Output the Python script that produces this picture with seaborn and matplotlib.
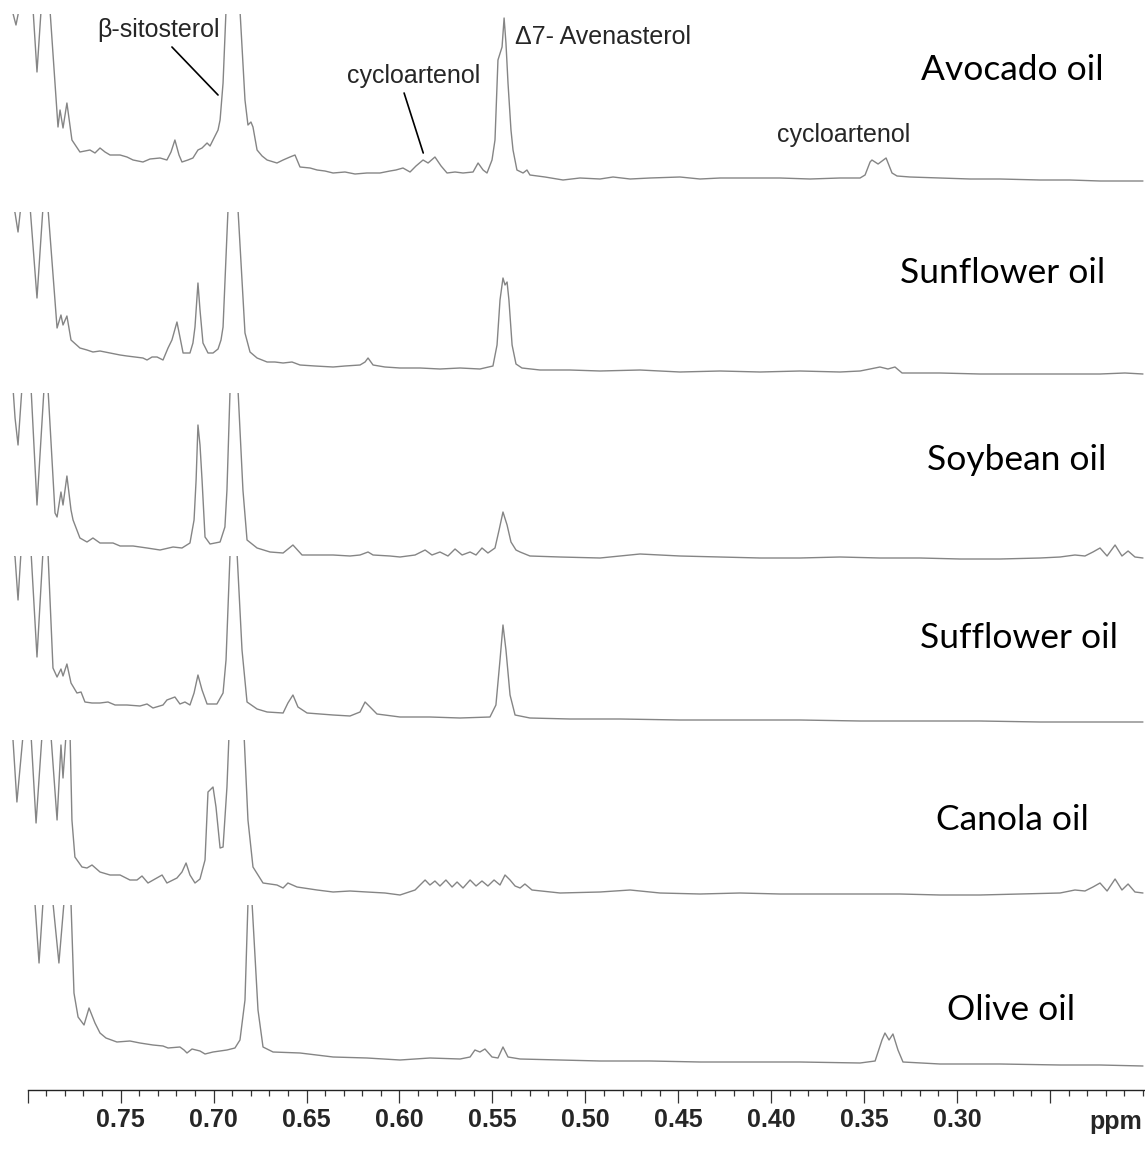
import matplotlib.pyplot as plt
import pandas as pd
import seaborn as sns
from matplotlib.ticker import FixedLocator

FIG_W, FIG_H = 1145, 1149
PPM_LEFT, PPM_RIGHT = 0.8149, 0.1989

# --- spectra (chemical shift in ppm, signal height above baseline) ---
AVOCADO_PPM = [
    0.8084, 0.8063, 0.8047, 0.8009, 0.7971, 0.7950, 0.7928, 0.7907, 0.7880, 0.7837,
    0.7826, 0.7810, 0.7789, 0.7762, 0.7719, 0.7665, 0.7638, 0.7611, 0.7584, 0.7557,
    0.7503, 0.7466, 0.7433, 0.7380, 0.7342, 0.7288, 0.7251, 0.7229, 0.7208, 0.7186,
    0.7170, 0.7138, 0.7111, 0.7084, 0.7062, 0.7035, 0.7019, 0.7003, 0.6976, 0.6965,
    0.6949, 0.6933, 0.6895, 0.6858, 0.6831, 0.6815, 0.6799, 0.6788, 0.6766, 0.6739,
    0.6712, 0.6659, 0.6626, 0.6589, 0.6562, 0.6535, 0.6481, 0.6443, 0.6401, 0.6357,
    0.6293, 0.6239, 0.6175, 0.6105, 0.6051, 0.6019, 0.5981, 0.5943, 0.5911, 0.5873,
    0.5846, 0.5809, 0.5776, 0.5744, 0.5701, 0.5658, 0.5604, 0.5577, 0.5550, 0.5529,
    0.5502, 0.5486, 0.5470, 0.5448, 0.5437, 0.5427, 0.5416, 0.5400, 0.5389, 0.5368,
    0.5335, 0.5314, 0.5298, 0.5217, 0.5120, 0.5029, 0.4921, 0.4851, 0.4759, 0.4652,
    0.4491, 0.4383, 0.4275, 0.4130, 0.3953, 0.3791, 0.3630, 0.3522, 0.3495, 0.3468,
    0.3458, 0.3425, 0.3382, 0.3350, 0.3323, 0.3253, 0.3092, 0.2930, 0.2769, 0.2554,
    0.2393, 0.2231, 0.2000,
]
AVOCADO_INT = [
    170, 155, 170, 600, 170, 108, 170, 600, 170, 53,
    70, 52, 77, 40, 28, 30, 27, 32, 28, 25,
    25, 23, 20, 18, 21, 22, 20, 28, 40, 25,
    18, 20, 22, 30, 32, 37, 34, 40, 50, 60,
    97, 170, 900, 170, 80, 55, 58, 53, 30, 24,
    20, 17, 20, 23, 25, 13, 12, 10, 9, 7,
    8, 6, 7, 7, 9, 10, 12, 8, 14, 20,
    17, 23, 14, 7, 8, 7, 8, 17, 10, 7,
    20, 40, 120, 133, 162, 137, 97, 50, 30, 10,
    7, 10, 5, 3, 0, 2, 1, 3, 1, 2,
    3, 1, 2, 2, 2, 1, 2, 2, 5, 18,
    20, 16, 22, 7, 4, 3, 2, 1, 1, 0,
    0, -1, -1,
]

SUNFLOWER_PPM = [
    0.8079, 0.8068, 0.8052, 0.8036, 0.8009, 0.7988, 0.7950, 0.7918, 0.7902, 0.7891,
    0.7842, 0.7821, 0.7810, 0.7789, 0.7767, 0.7719, 0.7681, 0.7649, 0.7611, 0.7557,
    0.7503, 0.7466, 0.7423, 0.7380, 0.7358, 0.7331, 0.7304, 0.7272, 0.7245, 0.7224,
    0.7197, 0.7181, 0.7164, 0.7127, 0.7111, 0.7100, 0.7084, 0.7073, 0.7057, 0.7030,
    0.7003, 0.6976, 0.6960, 0.6949, 0.6922, 0.6895, 0.6869, 0.6831, 0.6804, 0.6766,
    0.6712, 0.6670, 0.6626, 0.6578, 0.6535, 0.6454, 0.6357, 0.6293, 0.6212, 0.6185,
    0.6169, 0.6142, 0.6078, 0.5997, 0.5889, 0.5782, 0.5674, 0.5567, 0.5497, 0.5475,
    0.5459, 0.5443, 0.5432, 0.5421, 0.5411, 0.5394, 0.5373, 0.5341, 0.5244, 0.5083,
    0.4921, 0.4706, 0.4491, 0.4275, 0.4060, 0.3845, 0.3630, 0.3522, 0.3468, 0.3415,
    0.3372, 0.3334, 0.3296, 0.3092, 0.2877, 0.2661, 0.2446, 0.2231, 0.2097, 0.2000,
]
SUNFLOWER_INT = [
    168, 160, 141, 168, 700, 168, 75, 165, 700, 165,
    45, 58, 48, 57, 33, 25, 23, 21, 22, 20,
    18, 17, 16, 15, 13, 16, 16, 13, 25, 33,
    51, 36, 20, 20, 30, 46, 90, 63, 30, 20,
    20, 24, 33, 46, 165, 900, 165, 40, 21, 15,
    11, 11, 10, 11, 8, 7, 6, 7, 8, 11,
    15, 8, 6, 5, 5, 4, 5, 4, 7, 28,
    73, 95, 88, 91, 73, 28, 9, 5, 3, 3,
    2, 3, 1, 2, 1, 2, 1, 2, 4, 6,
    4, 6, 0, 0, -1, -1, -1, -1, 0, -1,
]

SOYBEAN_PPM = [
    0.8079, 0.8068, 0.8052, 0.8031, 0.8009, 0.7982, 0.7950, 0.7912, 0.7902, 0.7891,
    0.7853, 0.7842, 0.7821, 0.7810, 0.7789, 0.7767, 0.7756, 0.7719, 0.7681, 0.7649,
    0.7611, 0.7541, 0.7503, 0.7433, 0.7358, 0.7288, 0.7218, 0.7170, 0.7127, 0.7105,
    0.7094, 0.7084, 0.7073, 0.7062, 0.7046, 0.7019, 0.6965, 0.6939, 0.6928, 0.6911,
    0.6890, 0.6869, 0.6842, 0.6820, 0.6766, 0.6696, 0.6626, 0.6573, 0.6524, 0.6427,
    0.6357, 0.6266, 0.6212, 0.6169, 0.6142, 0.6051, 0.5997, 0.5916, 0.5862, 0.5825,
    0.5782, 0.5739, 0.5701, 0.5663, 0.5620, 0.5588, 0.5556, 0.5524, 0.5486, 0.5464,
    0.5443, 0.5421, 0.5400, 0.5373, 0.5351, 0.5298, 0.5136, 0.4921, 0.4706, 0.4491,
    0.4275, 0.4060, 0.3845, 0.3630, 0.3415, 0.3199, 0.2984, 0.2769, 0.2554, 0.2446,
    0.2366, 0.2312, 0.2269, 0.2231, 0.2193, 0.2150, 0.2113, 0.2080, 0.2043, 0.2000,
]
SOYBEAN_INT = [
    169, 139, 112, 169, 700, 169, 52, 169, 700, 169,
    44, 40, 65, 52, 81, 47, 37, 19, 15, 19,
    14, 14, 11, 11, 9, 7, 10, 9, 14, 37,
    77, 132, 112, 77, 20, 13, 15, 30, 67, 169,
    900, 169, 67, 17, 9, 5, 4, 12, 2, 2,
    2, 1, 2, 5, 2, 1, 0, 2, 7, 2,
    5, 1, 8, 2, 5, 2, 9, 4, 9, 27,
    45, 32, 15, 7, 5, 1, 0, -1, 3, 1,
    0, -1, -1, 0, -1, -1, -2, -2, -1, 0,
    2, 1, 5, 9, 1, 12, 1, 6, 0, -1,
]

SUFFLOWER_PPM = [
    0.8079, 0.8068, 0.8052, 0.8036, 0.8009, 0.7982, 0.7950, 0.7918, 0.7902, 0.7891,
    0.7864, 0.7842, 0.7821, 0.7810, 0.7789, 0.7767, 0.7735, 0.7713, 0.7692, 0.7654,
    0.7611, 0.7568, 0.7530, 0.7466, 0.7396, 0.7358, 0.7326, 0.7272, 0.7251, 0.7208,
    0.7181, 0.7154, 0.7127, 0.7105, 0.7084, 0.7062, 0.7035, 0.6982, 0.6949, 0.6933,
    0.6911, 0.6895, 0.6874, 0.6847, 0.6820, 0.6766, 0.6712, 0.6626, 0.6600, 0.6573,
    0.6546, 0.6497, 0.6427, 0.6357, 0.6266, 0.6212, 0.6185, 0.6158, 0.6121, 0.5997,
    0.5836, 0.5674, 0.5513, 0.5481, 0.5459, 0.5443, 0.5427, 0.5405, 0.5378, 0.5298,
    0.5083, 0.4813, 0.4491, 0.4168, 0.3845, 0.3522, 0.3199, 0.2877, 0.2554, 0.2231,
    0.2000,
]
SUFFLOWER_INT = [
    166, 161, 118, 166, 700, 166, 61, 166, 700, 166,
    50, 41, 49, 42, 54, 35, 25, 26, 16, 15,
    15, 16, 13, 13, 12, 14, 10, 13, 18, 21,
    14, 16, 13, 25, 43, 28, 14, 14, 25, 58,
    166, 900, 166, 68, 16, 9, 6, 5, 15, 23,
    11, 5, 4, 3, 2, 6, 16, 11, 4, 1,
    1, 0, 1, 13, 58, 93, 68, 23, 3, 0,
    -1, -1, -2, -2, -2, -3, -3, -3, -4, -4,
    -4,
]

CANOLA_PPM = [
    0.8090, 0.8079, 0.8058, 0.8025, 0.8004, 0.7982, 0.7955, 0.7923, 0.7902, 0.7875,
    0.7842, 0.7821, 0.7810, 0.7794, 0.7783, 0.7772, 0.7762, 0.7746, 0.7708, 0.7681,
    0.7654, 0.7611, 0.7557, 0.7503, 0.7450, 0.7412, 0.7385, 0.7353, 0.7315, 0.7277,
    0.7251, 0.7197, 0.7170, 0.7148, 0.7127, 0.7100, 0.7073, 0.7046, 0.7030, 0.7019,
    0.7003, 0.6987, 0.6965, 0.6949, 0.6928, 0.6917, 0.6879, 0.6836, 0.6815, 0.6788,
    0.6734, 0.6659, 0.6626, 0.6600, 0.6551, 0.6443, 0.6357, 0.6266, 0.6175, 0.6078,
    0.5997, 0.5916, 0.5862, 0.5836, 0.5809, 0.5782, 0.5750, 0.5717, 0.5690, 0.5658,
    0.5620, 0.5588, 0.5556, 0.5524, 0.5491, 0.5459, 0.5432, 0.5405, 0.5378, 0.5351,
    0.5325, 0.5287, 0.5136, 0.4921, 0.4759, 0.4598, 0.4383, 0.4168, 0.3953, 0.3737,
    0.3522, 0.3307, 0.3092, 0.2877, 0.2661, 0.2446, 0.2366, 0.2312, 0.2269, 0.2231,
    0.2193, 0.2150, 0.2113, 0.2080, 0.2043, 0.2000,
]
CANOLA_INT = [
    158, 153, 91, 158, 700, 158, 70, 158, 700, 158,
    73, 148, 115, 158, 700, 158, 73, 36, 26, 25,
    28, 21, 18, 18, 13, 13, 17, 10, 14, 18,
    10, 15, 21, 30, 18, 10, 14, 33, 101, 103,
    106, 86, 45, 46, 106, 158, 900, 158, 73, 26,
    10, 8, 5, 10, 6, 3, 1, 2, 1, 0,
    -2, 3, 13, 8, 12, 7, 13, 6, 11, 5,
    13, 7, 12, 7, 13, 8, 18, 13, 7, 5,
    9, 3, 0, 1, 3, 0, -1, 0, -1, -1,
    -1, -1, -2, -2, -1, 0, 3, 2, 6, 10,
    2, 14, 3, 9, 1, 0,
]

OLIVE_PPM = [
    0.7971, 0.7961, 0.7939, 0.7918, 0.7891, 0.7864, 0.7832, 0.7805, 0.7789, 0.7767,
    0.7751, 0.7729, 0.7697, 0.7670, 0.7638, 0.7611, 0.7579, 0.7520, 0.7450, 0.7396,
    0.7326, 0.7272, 0.7245, 0.7181, 0.7159, 0.7143, 0.7116, 0.7073, 0.7046, 0.7003,
    0.6928, 0.6885, 0.6858, 0.6831, 0.6815, 0.6804, 0.6793, 0.6761, 0.6734, 0.6680,
    0.6535, 0.6357, 0.6175, 0.5997, 0.5836, 0.5674, 0.5620, 0.5594, 0.5567, 0.5540,
    0.5502, 0.5470, 0.5443, 0.5416, 0.5351, 0.5136, 0.4921, 0.4652, 0.4383, 0.4114,
    0.3845, 0.3522, 0.3441, 0.3404, 0.3388, 0.3366, 0.3345, 0.3318, 0.3291, 0.3092,
    0.2769, 0.2446, 0.2231, 0.2000,
]
OLIVE_INT = [
    160, 157, 97, 157, 700, 157, 97, 157, 700, 157,
    67, 43, 35, 52, 37, 27, 22, 18, 19, 17,
    15, 14, 12, 13, 10, 7, 11, 9, 6, 8,
    10, 12, 20, 60, 157, 900, 157, 50, 13, 8,
    7, 3, 2, 0, 2, 1, 3, 10, 8, 11,
    3, 2, 13, 3, 1, 0, -1, -1, -2, -2,
    -2, -3, -1, 20, 27, 20, 26, 10, -2, -4,
    -4, -5, -5, -6,
]

OIL_NAMES = ["Avocado oil", "Sunflower oil", "Soybean oil",
             "Sufflower oil", "Canola oil", "Olive oil"]
SPECTRA = [
    (AVOCADO_PPM, AVOCADO_INT),
    (SUNFLOWER_PPM, SUNFLOWER_INT),
    (SOYBEAN_PPM, SOYBEAN_INT),
    (SUFFLOWER_PPM, SUFFLOWER_INT),
    (CANOLA_PPM, CANOLA_INT),
    (OLIVE_PPM, OLIVE_INT),
]

MAJOR_TICKS = [0.80, 0.75, 0.70, 0.65, 0.60, 0.55, 0.50, 0.45, 0.40, 0.35, 0.30, 0.25]
TICK_LABELS = ["", "0.75", "0.70", "0.65", "0.60", "0.55", "0.50",
               "0.45", "0.40", "0.35", "0.30", ""]

# --- layout (pixel rows: clip top, panel bottom, baseline) ---
BANDS = [(14, 195, 180), (212, 386, 373), (393, 572, 557),
         (556, 735, 718), (740, 915, 893), (905, 1090, 1060)]
LABEL_XY = [(1012, 70), (1003, 273), (1017, 460), (1019, 638), (1012, 820), (1011, 1010)]

LINE_COLOR = "#858585"

sns.set_theme(style="white")
plt.rcParams["font.family"] = ["Liberation Sans", "DejaVu Sans"]

fig = plt.figure(figsize=(FIG_W / 100, FIG_H / 100), dpi=100)
fig.patch.set_facecolor("white")

axes = []
for (ppm, inten), (top, bot, base) in zip(SPECTRA, BANDS):
    ax = fig.add_axes([0, 1 - bot / FIG_H, 1, (bot - top) / FIG_H])
    ax.set_facecolor("none")
    df = pd.DataFrame({"ppm": ppm, "intensity": inten})
    sns.lineplot(data=df, x="ppm", y="intensity", ax=ax, sort=False,
                 estimator=None, color=LINE_COLOR, linewidth=1.0)
    ax.set_xlim(PPM_LEFT, PPM_RIGHT)
    ax.set_ylim(base - bot, base - top)
    ax.set_xlabel("")
    ax.set_ylabel("")
    ax.set_yticks([])
    for side in ["left", "right", "top", "bottom"]:
        ax.spines[side].set_visible(False)
    axes.append(ax)

for ax in axes[:-1]:
    ax.set_xticks([])

# bottom ppm axis
ax = axes[-1]
ax.spines["bottom"].set_visible(True)
ax.spines["bottom"].set_color("#222222")
ax.spines["bottom"].set_linewidth(1.0)
ax.spines["bottom"].set_bounds(0.80, PPM_RIGHT)
ax.set_xticks(MAJOR_TICKS, labels=TICK_LABELS)
ax.xaxis.set_minor_locator(FixedLocator([round(0.80 - 0.01 * i, 2) for i in range(61)]))
ax.tick_params(axis="x", which="major", bottom=True, direction="out", length=9,
               width=0.9, color="#333333", pad=4, labelsize=18)
ax.tick_params(axis="x", which="minor", bottom=True, direction="out", length=4.5,
               width=0.9, color="#333333")
for lab in ax.get_xticklabels():
    lab.set_fontweight("bold")
fig.text(1142 / FIG_W, 1 - 1122 / FIG_H, "ppm", fontsize=18, fontweight="bold",
         ha="right", va="center")

# oil names
for name, (lx, ly) in zip(OIL_NAMES, LABEL_XY):
    fig.text(lx / FIG_W, 1 - ly / FIG_H, name, fontsize=25.5, ha="center", va="center",
             family=["Lato", "DejaVu Sans"], color="black")

# compound annotations on the avocado spectrum
top_ax = axes[0]
line_kw = dict(arrowstyle="-", color="black", lw=1.2, shrinkA=0, shrinkB=0)
top_ax.annotate("", xy=(0.6976, 85), xytext=(0.7224, 133), arrowprops=line_kw)
top_ax.annotate("", xy=(0.5872, 27), xytext=(0.5975, 87), arrowprops=line_kw)
top_ax.text(0.7627, 150, "β-sitosterol", fontsize=18, ha="left", va="center")
top_ax.text(0.6281, 104, "cycloartenol", fontsize=18, ha="left", va="center")
top_ax.text(0.5377, 143, "Δ7- Avenasterol", fontsize=18, ha="left", va="center")
top_ax.text(0.3967, 45, "cycloartenol", fontsize=18, ha="left", va="center")

fig.savefig("out.png", dpi=100, facecolor="white")
